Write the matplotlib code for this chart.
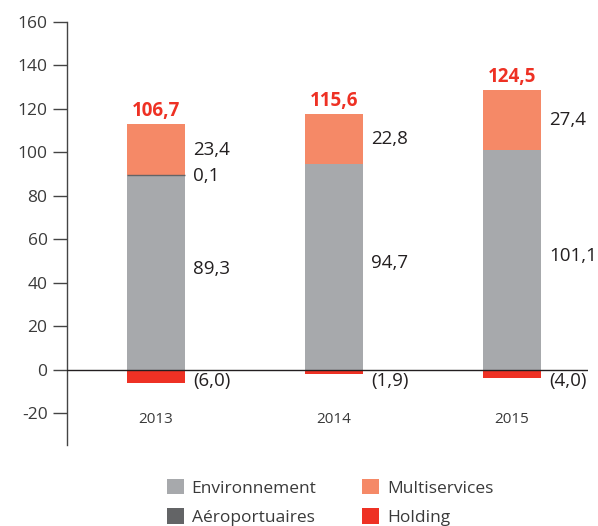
import matplotlib
matplotlib.use("Agg")
import matplotlib.pyplot as plt
import numpy as np
from matplotlib.patches import Patch

plt.rcParams['font.family'] = ['Open Sans', 'DejaVu Sans']

# ---- data ----
years = ["2013", "2014", "2015"]
environnement = [89.3, 94.7, 101.1]
aeroportuaires = [0.1, 0.0, 0.0]
multiservices = [23.4, 22.8, 27.4]
holding = [-6.0, -1.9, -4.0]
totals = [106.7, 115.6, 124.5]
yticks = [-20, 0, 20, 40, 60, 80, 100, 120, 140, 160]

# ---- style ----
c_env = "#a7a9ac"
c_aero = "#636466"
c_multi = "#f58967"
c_hold = "#ee3124"
c_text = "#231f20"
c_tick = "#3a3a3a"


def fmt(v):
    s = f"{abs(v):.1f}".replace(".", ",")
    return f"({s})" if v < 0 else s


W, H = 598, 526
fig = plt.figure(figsize=(W / 100, H / 100), dpi=100)
ax = fig.add_axes([67 / W, 1 - 445 / H, (588 - 67) / W, (445 - 21.7) / H])

x = np.arange(len(years))
bw = 0.326

env = np.array(environnement)
aer = np.array(aeroportuaires)
mul = np.array(multiservices)
hol = np.array(holding)

ax.bar(x, env, width=bw, color=c_env, linewidth=0, zorder=2)
ax.bar(x, aer, width=bw, bottom=env, color=c_aero,
       edgecolor=c_aero, linewidth=[1.0 if v > 0 else 0 for v in aer], zorder=3)
ax.bar(x, mul, width=bw, bottom=env + aer, color=c_multi, linewidth=0, zorder=2)
ax.bar(x, hol, width=bw, color=c_hold, linewidth=0, zorder=2)

ax.axhline(0, color=c_text, linewidth=1.0, zorder=4)

lx = bw / 2 + 0.045
lab_fs = 13.5
lab_w = "medium"
for i in range(len(years)):
    ax.text(x[i] + lx, env[i] / 2 + 1.5, fmt(env[i]), ha="left", va="center",
            fontsize=lab_fs, color=c_text, fontweight=lab_w)
    ax.text(x[i] + lx, env[i] + aer[i] + mul[i] / 2, fmt(mul[i]), ha="left",
            va="center", fontsize=lab_fs, color=c_text, fontweight=lab_w)
    if aer[i] > 0:
        ax.text(x[i] + lx, env[i] + aer[i] - 0.5, fmt(aer[i]), ha="left",
                va="center", fontsize=lab_fs, color=c_text, fontweight=lab_w)
    ax.text(x[i] + lx, -5.3, fmt(hol[i]), ha="left", va="center",
            fontsize=lab_fs, color=c_text, fontweight=lab_w)
    ax.annotate(fmt(totals[i]), (x[i], env[i] + aer[i] + mul[i]),
                xytext=(0, 6), textcoords="offset points", ha="center",
                va="baseline", fontsize=13.5, fontweight="bold", color=c_hold)
    ax.text(x[i], -23.2, years[i], ha="center", va="center", fontsize=11,
            color=c_tick)

ax.set_xlim(-0.5, 2.427)
ax.set_ylim(-34.7, 160)
ax.set_yticks(yticks)
ax.set_yticklabels([str(t) for t in yticks])
ax.set_xticks([])
ax.tick_params(axis="y", direction="out", length=10, width=1.0,
               color="#444444", labelsize=12.5, labelcolor=c_tick, pad=4)
for s in ["top", "right", "bottom"]:
    ax.spines[s].set_visible(False)
ax.spines["left"].set_color("#444444")
ax.spines["left"].set_linewidth(1.0)

handles = [Patch(facecolor=c_env), Patch(facecolor=c_aero),
           Patch(facecolor=c_multi), Patch(facecolor=c_hold)]
labels = ["Environnement", "Aéroportuaires", "Multiservices", "Holding"]
fig.legend(handles, labels, ncol=2, loc="upper left",
           bbox_to_anchor=(167 / W, 1 - 479 / H), frameon=False,
           fontsize=12.5, handlelength=0.98, handleheight=0.98,
           handletextpad=0.44, columnspacing=2.64, labelspacing=0.68,
           borderpad=0, borderaxespad=0, labelcolor=c_tick)

fig.savefig("out.png", dpi=100)
